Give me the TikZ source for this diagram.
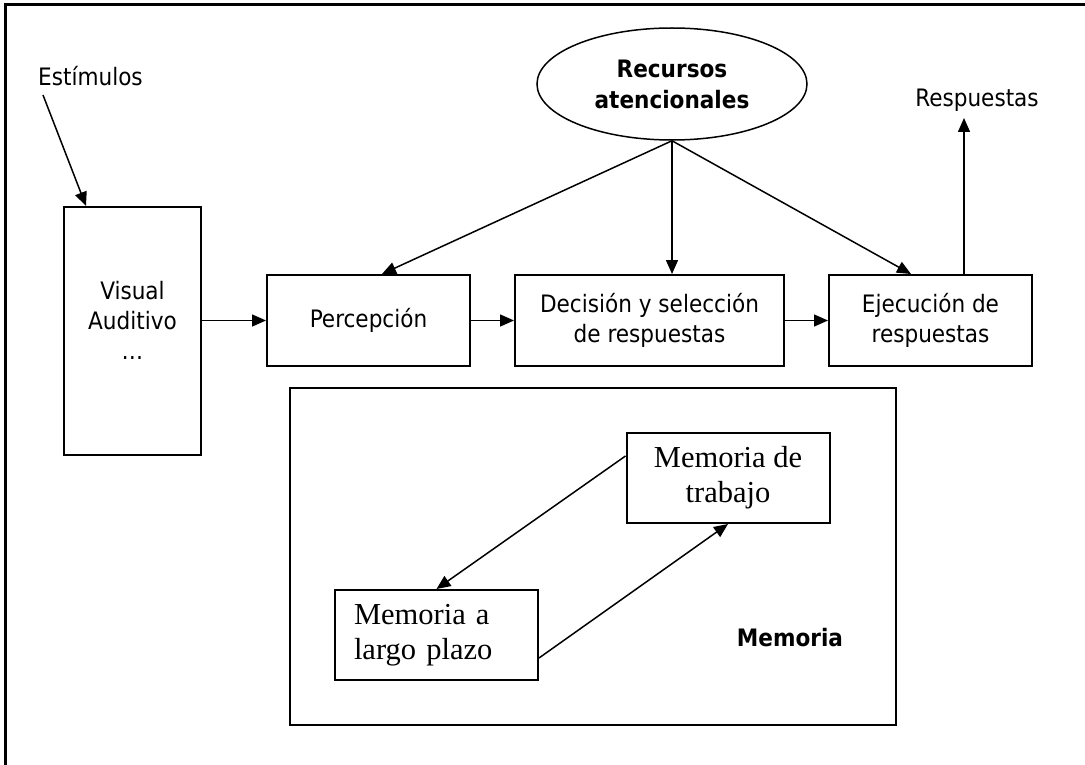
\documentclass[tikz,border=0pt]{standalone}
\usepackage{fontspec}
\setmainfont{DejaVu Sans Condensed}
\newfontfamily\memfont{Liberation Serif}
\usetikzlibrary{arrows.meta, positioning, shapes.geometric, calc}

\begin{document}
\begin{tikzpicture} [x=1pt, y=-1pt, node distance=281pt, on grid,
    >={Triangle[length=14pt,width=12pt]},
    box/.style={draw, line width=2pt, align=center, font=\fontsize{24}{30}\selectfont},
    membox/.style={draw, line width=2pt, minimum width=203pt, minimum height=90pt, font=\memfont\fontsize{30.5}{35}\selectfont},
    tag/.style={font=\fontsize{24}{30}\selectfont},
    link/.style={->, line width=1.5pt}]

   \useasboundingbox (0,0) rectangle (1085,765);
   \draw[line width=3pt] (1085,5) -- (5,5) -- (5,765);

   % fila de procesos
   \node[box, minimum width=137pt, minimum height=248pt] (visual) at (132.5,331) {Visual\\Auditivo\\…\\[-8pt]};
   \node[box, minimum width=203pt, minimum height=91pt] (perc) at (368.5,320.5) {Percepción};
   \node[box, minimum width=269pt, minimum height=91pt] (dec) [right=of perc] {Decisión y selección\\de respuestas};
   \node[box, minimum width=203pt, minimum height=91pt] (ejec) [right=of dec] {Ejecución de\\respuestas};

   \node[draw, ellipse, line width=1.5pt, minimum width=270pt, minimum height=112pt, align=center,
         font=\fontsize{24}{31}\selectfont\bfseries] (rec) at (672,84) {Recursos\\atencionales};

   \node[tag, anchor=base] (estim) at (90.5,86) {Estímulos};
   \node[tag, anchor=base] (resp) at (977,107) {Respuestas};
   \coordinate (estimfoot) at (43,95);
   \coordinate (respfoot) at (964,118);

   % memoria
   \node[draw, line width=2pt, minimum width=606pt, minimum height=337pt] (mem) at (593,556.5) {};
   \node[membox, align=center] (mdt) at (728,478) {Memoria de\\trabajo};
   \node[membox, align=left, inner xsep=19pt, text width=165pt] (mlp) at (436.5,635) {Memoria a\\largo plazo};
   \node[tag, font=\fontsize{24}{30}\selectfont\bfseries] (memlabel) at (790,638) {Memoria};

    \path[link]
    (estimfoot) edge ([xshift=23pt]visual.north west)
    (visual.east |- perc.west) edge (perc.west)
    (perc) edge (dec)
    (dec) edge (ejec)
    (rec.south) edge ([xshift=13.5pt]perc.north)
    (rec.south) edge (dec.north -| rec.south)
    (rec.south) edge ([xshift=-19.5pt]ejec.north)
    ([xshift=33.5pt]ejec.north) edge (respfoot)
    ($(mdt.north west)+(0,24)$) edge (mlp.north)
    ($(mlp.south east)+(0,-23)$) edge (mdt.south);

\end{tikzpicture}
\end{document}
